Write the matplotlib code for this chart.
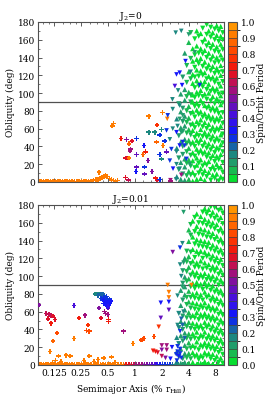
import numpy as np
import matplotlib as mpl
mpl.use('Agg')
import matplotlib.pyplot as plt
from matplotlib.colors import LinearSegmentedColormap, ListedColormap, BoundaryNorm
from matplotlib.ticker import FixedLocator, FixedFormatter, MultipleLocator

plt.rcParams['font.family'] = ['DejaVu Serif']
plt.rcParams['mathtext.fontset'] = 'dejavuserif'
plt.rcParams['font.size'] = 6.5

# ---------------- data ----------------
# x = semimajor axis (% r_Hill), y = obliquity (deg), c = spin/orbit period

# dense cloud: one x per column, a list of obliquities per column
cloud_x = [2.94, 3.10, 3.26, 3.43, 3.61, 3.80, 4.00, 4.21, 4.43, 4.67, 4.91, 5.17,
           5.44, 5.73, 6.03, 6.35, 6.68, 7.04, 7.41, 7.80, 8.21, 8.64, 9.10, 9.58]

top_cloud_y = [
    [6, 38, 71],
    [14, 27, 52, 88],
    [3, 22, 45, 61, 79, 99],
    [9, 31, 40, 57, 68, 83, 118],
    [2, 17, 26, 48, 63, 74, 92, 104, 145],
    [7, 21, 34, 43, 55, 67, 80, 96, 112, 131],
    [3, 12, 25, 38, 47, 59, 72, 85, 101, 124, 157],
    [8, 18, 30, 42, 53, 64, 77, 90, 98, 116, 139, 168],
    [1, 11, 24, 33, 45, 58, 66, 79, 90, 98, 111, 121, 136, 150],
    [7, 16, 29, 40, 50, 61, 73, 85, 95, 106, 118, 129, 143, 161],
    [3, 19, 27, 37, 47, 55, 68, 81, 89, 101, 114, 126, 138, 153, 170],
    [10, 21, 32, 43, 52, 64, 76, 85, 97, 108, 119, 133, 145, 164],
    [4, 15, 25, 36, 48, 59, 70, 79, 92, 103, 112, 125, 139, 150, 167],
    [8, 18, 31, 40, 51, 62, 73, 88, 96, 107, 120, 130, 144, 157, 173],
    [2, 13, 22, 34, 45, 56, 67, 77, 86, 99, 113, 123, 135, 148, 161],
    [6, 19, 28, 38, 50, 60, 71, 83, 93, 104, 116, 127, 140, 153, 166, 177],
    [11, 23, 33, 43, 54, 65, 75, 86, 100, 110, 119, 132, 145, 157, 170],
    [2, 14, 26, 36, 47, 57, 69, 80, 91, 102, 115, 125, 137, 150, 163, 174],
    [8, 18, 30, 41, 52, 62, 73, 84, 96, 106, 118, 130, 142, 155, 168],
    [4, 13, 23, 33, 45, 56, 67, 79, 88, 101, 112, 122, 134, 147, 160, 172],
    [9, 20, 29, 39, 50, 61, 72, 83, 94, 105, 117, 128, 140, 152, 165, 176],
    [1, 15, 25, 36, 46, 58, 68, 77, 90, 99, 110, 123, 135, 146, 158, 170],
    [6, 17, 31, 42, 53, 63, 74, 87, 97, 108, 120, 131, 143, 155, 164, 175],
    [3, 11, 22, 34, 44, 54, 66, 78, 89, 100, 113, 124, 137, 149, 160, 168],
]
top_cloud_c = [0.16, 0.15, 0.13, 0.12, 0.11, 0.09, 0.07, 0.06, 0.04, 0.03, 0.04, 0.02,
               0.02, 0.03, 0.02, 0.02, 0.02, 0.02, 0.03, 0.02, 0.02, 0.02, 0.02, 0.02]

bot_cloud_y = [
    [4, 15, 31],
    [9, 24, 42, 58],
    [2, 18, 33, 49, 67, 84],
    [7, 27, 40, 55, 73, 92, 106],
    [3, 13, 22, 36, 47, 62, 79, 88, 99, 120],
    [8, 18, 30, 43, 53, 68, 76, 94, 105, 116, 128],
    [2, 13, 25, 35, 48, 59, 71, 83, 97, 110, 122, 139, 152],
    [7, 19, 29, 41, 53, 64, 76, 88, 101, 114, 127, 146, 158],
    [3, 14, 22, 35, 47, 56, 70, 80, 92, 105, 117, 130, 144, 162],
    [9, 19, 30, 40, 53, 63, 75, 86, 99, 110, 121, 136, 150, 166],
    [1, 12, 26, 37, 46, 59, 69, 81, 93, 104, 115, 128, 141, 156, 170],
    [6, 17, 29, 41, 51, 62, 74, 88, 97, 110, 124, 134, 147, 160],
    [2, 11, 23, 34, 45, 57, 68, 79, 91, 102, 117, 128, 140, 153, 167],
    [8, 20, 31, 40, 53, 64, 73, 85, 98, 108, 120, 133, 146, 159, 172],
    [4, 14, 25, 37, 48, 58, 70, 82, 93, 103, 115, 127, 139, 152, 164, 176],
    [10, 19, 29, 42, 52, 63, 76, 87, 96, 109, 122, 132, 144, 157, 170],
    [2, 13, 24, 34, 46, 56, 67, 79, 91, 101, 113, 125, 138, 150, 162, 175],
    [7, 18, 28, 39, 50, 61, 72, 84, 95, 106, 118, 130, 143, 155, 167, 178],
    [1, 12, 22, 33, 44, 55, 65, 77, 89, 100, 111, 123, 135, 148, 160, 172],
    [5, 16, 27, 37, 49, 60, 71, 82, 93, 105, 116, 128, 141, 153, 165, 177],
    [10, 21, 31, 42, 53, 64, 75, 86, 98, 110, 121, 133, 145, 158, 169],
    [3, 14, 24, 35, 45, 57, 68, 80, 90, 102, 114, 126, 138, 150, 162, 174],
    [8, 19, 29, 40, 51, 61, 73, 84, 96, 107, 119, 130, 142, 154, 166, 177],
    [2, 12, 23, 34, 46, 56, 67, 78, 91, 101, 112, 124, 136, 148, 159, 171],
]
bot_cloud_c = [0.17, 0.16, 0.15, 0.13, 0.11, 0.09, 0.07, 0.05, 0.04, 0.03, 0.03, 0.02,
               0.02, 0.03, 0.02, 0.02, 0.02, 0.02, 0.02, 0.03, 0.02, 0.02, 0.02, 0.02]

# points sitting on obliquity ~0
top_base_x = [0.085, 0.09, 0.096, 0.102, 0.108, 0.115, 0.122, 0.13, 0.138, 0.147, 0.156, 0.166,
              0.176, 0.187, 0.199, 0.211, 0.225, 0.239, 0.254, 0.27, 0.287, 0.305, 0.324, 0.345,
              0.367, 0.39, 0.41, 0.43, 0.45, 0.47, 0.49, 0.52, 0.55, 0.58, 0.61, 0.64, 1.76, 2.5]
top_base_y = [0.5, 1.0, 0.4, 1.2, 0.6, 1.0, 0.3, 1.1, 0.7, 0.4, 1.2, 0.6, 1.0, 0.4, 1.1, 0.7, 0.5,
              1.2, 0.6, 1.0, 0.4, 1.3, 0.8, 2.0, 2.5, 3.0, 4.0, 5.0, 6.5, 7.5, 6.0, 4.0, 2.5, 1.5,
              0.8, 1.5, 1.5, 1.0]
top_base_c = [0.95] * 36 + [0.7, 0.6]

bot_base_x = [0.085, 0.09, 0.096, 0.102, 0.108, 0.115, 0.122, 0.13, 0.138, 0.147, 0.156, 0.166,
              0.176, 0.187, 0.199, 0.211, 0.225, 0.239, 0.254, 0.27, 0.287, 0.305, 0.324, 0.345,
              0.367, 0.39, 0.415, 0.44, 0.47, 0.5, 0.53, 0.57, 0.61, 0.65, 0.7, 0.75, 0.8, 0.86,
              0.92, 0.98, 1.05, 1.12, 1.2, 1.28, 1.37, 1.46, 1.56, 1.67, 1.78, 1.9, 2.03, 2.17,
              2.32, 2.48, 2.65, 2.83, 3.02, 3.23, 3.45, 3.7, 3.95, 4.5, 5.1, 5.8, 6.6, 7.5, 8.5, 9.5]
bot_base_y = [0.5, 0.9, 0.3, 1.1, 0.6, 0.9, 0.4, 1.0, 0.6, 0.3, 1.1, 0.6, 0.9, 0.4, 1.0, 0.6, 0.4,
              1.1, 0.6, 0.9, 0.4, 1.0, 0.6, 0.3, 1.0, 0.6, 0.4, 0.9, 0.5, 0.3, 0.9, 0.5, 0.4, 0.8,
              0.5, 0.3, 0.6, 0.4, 0.7, 0.3, 0.6, 0.4, 0.7, 0.3, 0.6, 0.4, 0.7, 0.3, 0.6, 0.4, 0.7,
              0.3, 0.6, 0.4, 0.7, 0.3, 0.6, 0.4, 0.7, 0.3, 0.6, 0.4, 0.7, 0.3, 0.6, 0.4, 0.7, 0.3]
bot_base_c = [0.95] * 36 + [0.72, 0.7, 0.65, 0.62, 0.6, 0.58, 0.55, 0.52, 0.5, 0.47, 0.45,
                            0.4, 0.36, 0.33, 0.3, 0.3, 0.28, 0.25, 0.22, 0.17, 0.16, 0.15,
                            0.12, 0.1, 0.08, 0.06, 0.04, 0.03, 0.02, 0.02, 0.02, 0.02]

# scattered points, plus markers (top panel)
top_plus_x = [0.40, 0.56, 0.58, 0.70, 0.81, 0.93, 0.86, 0.90, 0.88, 0.79, 0.82, 0.86, 0.79, 0.85,
              1.05, 1.05, 1.03, 1.26, 1.32, 1.23, 1.40, 1.05, 1.29, 1.55, 1.29, 1.71, 1.90,
              1.43, 1.67, 1.90, 1.98, 2.16, 1.74, 2.07, 2.26, 1.90, 1.98, 1.76, 2.04, 1.43]
top_plus_y = [11, 63, 66, 49, 48, 46, 43, 37, 35, 27, 27, 27, 5, 2,
              49, 31, 12, 41, 34, 31, 24, 17, 17, 12, 9, 4.5, 3,
              56, 56, 53, 59, 46, 45, 41, 34, 31, 26, 64, 78, 74]
top_plus_c = [0.95, 0.95, 0.95, 0.72, 0.5, 0.65, 0.88, 0.55, 0.55, 0.7, 0.68, 0.9, 0.7, 0.62,
              0.3, 0.48, 0.32, 0.32, 0.72, 0.88, 0.5, 0.48, 0.3, 0.5, 0.48, 0.72, 0.3,
              0.16, 0.17, 0.3, 0.17, 0.3, 0.88, 0.9, 0.48, 0.3, 0.16, 0.75, 0.95, 0.92]

# scattered points, triangles (top panel)
top_tri_x = [2.30, 2.33, 2.65, 2.46, 2.56, 2.92, 2.26, 2.46, 2.92, 3.17, 2.67, 3.77, 4.10, 3.60,
             3.17, 3.43, 3.00, 2.65, 3.30, 2.92, 3.17, 3.43, 3.17, 2.90, 3.30, 2.50,
             2.86, 3.30, 4.00, 3.68, 2.92, 3.17, 4.20, 2.80, 3.37, 3.04, 2.63, 5.30, 4.66]
top_tri_y = [71, 75, 82, 48, 37, 34, 58, 24, 20, 15, 15, 26, 20, 41,
             41, 45, 63, 60, 56, 56, 71, 75, 86, 3, 8, 2,
             168, 170, 166, 136, 121, 123, 124, 108, 109, 103, 93, 109, 146]
top_tri_c = [0.92, 0.3, 0.16, 0.17, 0.3, 0.16, 0.3, 0.3, 0.16, 0.16, 0.32, 0.3, 0.14, 0.3,
             0.32, 0.3, 0.16, 0.17, 0.14, 0.32, 0.14, 0.12, 0.16, 0.16, 0.55, 0.6,
             0.17, 0.17, 0.14, 0.32, 0.35, 0.32, 0.16, 0.42, 0.35, 0.17, 0.17, 0.3, 0.14]

# scattered points, plus markers (bottom panel)
bot_plus_x = [0.085, 0.21, 0.102, 0.11, 0.116, 0.122, 0.107, 0.128, 0.116, 0.135, 0.122, 0.113,
              0.237, 0.277, 0.30, 0.29, 0.31, 0.21, 0.17, 0.19, 0.31, 0.40, 0.46, 0.47, 0.50,
              0.50, 0.51, 0.51, 0.42, 0.75, 0.95, 1.17, 1.22, 1.27, 1.63, 0.14, 0.15, 0.13,
              0.35, 0.45, 0.55, 0.60, 0.27, 0.28, 0.39, 0.12,
              0.36, 0.38, 0.40, 0.42, 0.44, 0.46, 0.39, 0.43, 0.45, 0.47, 0.49, 0.44, 0.46,
              0.48, 0.50, 0.52, 0.45, 0.47, 0.49, 0.51, 0.53, 0.50, 0.52, 0.48, 0.42, 0.54]
bot_plus_y = [67.5, 67, 58, 57, 56, 55, 52, 51, 47, 36, 27, 15,
              53, 56, 45, 39, 38, 30, 11, 10, 10, 64, 60, 58, 57,
              64, 51, 49, 53, 38, 24, 28, 29, 30, 32, 10, 4, 5,
              4, 8, 9, 3, 5, 3, 6, 3,
              80, 80, 80, 80, 79, 78, 78, 77, 76, 75, 74, 73, 72,
              71, 72, 70, 69, 68, 67, 68, 69, 66, 74, 77, 75, 72]
bot_plus_c = [0.5, 0.42, 0.62, 0.62, 0.62, 0.65, 0.7, 0.7, 0.72, 0.8, 0.88, 0.9,
              0.72, 0.6, 0.75, 0.82, 0.82, 0.9, 0.95, 0.95, 0.95, 0.5, 0.58, 0.58, 0.55,
              0.45, 0.72, 0.72, 0.7, 0.6, 0.9, 0.85, 0.85, 0.82, 0.8, 0.95, 0.95, 0.95,
              0.95, 0.95, 0.95, 0.95, 0.95, 0.95, 0.95, 0.95,
              0.17, 0.17, 0.17, 0.2, 0.2, 0.22, 0.2, 0.22, 0.3, 0.3, 0.3, 0.32, 0.32,
              0.32, 0.32, 0.32, 0.35, 0.35, 0.35, 0.35, 0.35, 0.38, 0.3, 0.28, 0.28, 0.33]

# scattered points, triangles (bottom panel)
bot_tri_x = [1.85, 1.60, 1.70, 1.80, 2.00, 2.00, 2.00, 2.27, 2.27, 2.20, 2.60, 2.50,
             1.95, 2.40, 2.40, 1.95, 2.33, 2.40, 2.40, 4.30,
             2.90, 3.00, 3.10, 3.20, 3.30, 3.00, 3.20, 2.95,
             3.00, 3.40, 3.30, 3.50, 3.20, 3.60,
             3.50, 2.65, 3.20, 3.40, 3.20, 3.50, 3.30, 3.40, 3.00]
bot_tri_y = [43, 16, 15, 14, 10, 17, 22, 22, 17, 8, 20, 7,
             70, 71, 62, 53, 90, 82, 76, 90,
             12, 15, 10, 18, 8, 21, 13, 5,
             45, 45, 52, 60, 38, 30,
             172, 127, 132, 137, 113, 115, 100, 88, 78]
bot_tri_c = [0.75, 0.72, 0.72, 0.7, 0.62, 0.5, 0.55, 0.6, 0.6, 0.5, 0.35, 0.35,
             0.32, 0.32, 0.48, 0.48, 0.95, 0.92, 0.92, 0.95,
             0.3, 0.3, 0.32, 0.28, 0.3, 0.25, 0.3, 0.3,
             0.17, 0.2, 0.22, 0.17, 0.3, 0.22,
             0.14, 0.5, 0.3, 0.17, 0.17, 0.14, 0.17, 0.14, 0.17]

xticks = [0.125, 0.25, 0.5, 1, 2, 4, 8]
xtick_labels = ['0.125', '0.25', '0.5', '1', '2', '4', '8']

# ---------------- palette ----------------
anchors = ['#00ee22', '#22a860', '#1a7c8c', '#0818ff', '#3c10e8', '#7010b0',
           '#b0106c', '#ee1010', '#ff3c00', '#ff7000', '#ffa000']
base = LinearSegmentedColormap.from_list('spin', anchors)
cmap = ListedColormap(base(np.linspace(0.025, 0.975, 20)))
norm = BoundaryNorm(np.linspace(0, 1, 21), 20)

fig = plt.figure(figsize=(2.73, 4.10), dpi=100)
W, H = 273.0, 410.0
ax_top = fig.add_axes([38 / W, 1 - 183 / H, 186 / W, 160 / H])
ax_bot = fig.add_axes([38 / W, 1 - 366 / H, 186 / W, 160 / H])
cax_top = fig.add_axes([228 / W, 1 - 183 / H, 9 / W, 160 / H])
cax_bot = fig.add_axes([228 / W, 1 - 366 / H, 9 / W, 160 / H])

ms = 11
ms_cloud = 14


def draw_panel(ax, cloud_y, cloud_c, base_x, base_y, base_c, plus_x, plus_y, plus_c,
               tri_x, tri_y, tri_c, title):
    ax.axhline(90, color='#505050', lw=0.9, zorder=1)
    ax.scatter(base_x, base_y, c=base_c, cmap=cmap, norm=norm, marker='P', s=ms,
               linewidths=0, zorder=2)
    for i in range(len(cloud_x)):
        ys = cloud_y[i]
        mk = '^' if i % 2 == 0 else 'v'
        ax.scatter([cloud_x[i]] * len(ys), ys, c=[cloud_c[i]] * len(ys), cmap=cmap,
                   norm=norm, marker=mk, s=ms_cloud, linewidths=0, zorder=2)
    ax.scatter(tri_x, tri_y, c=tri_c, cmap=cmap, norm=norm, marker='v', s=ms,
               linewidths=0, zorder=3)
    sc = ax.scatter(plus_x, plus_y, c=plus_c, cmap=cmap, norm=norm, marker='P', s=ms,
                    linewidths=0, zorder=3)

    ax.set_xscale('log', base=2)
    ax.set_xlim(0.083, 9.9)
    ax.set_ylim(0, 180)
    ax.yaxis.set_major_locator(MultipleLocator(20))
    ax.yaxis.set_minor_locator(MultipleLocator(10))
    ax.xaxis.set_major_locator(FixedLocator(xticks))
    ax.xaxis.set_major_formatter(FixedFormatter(xtick_labels))
    minors = []
    for t in [0.0625] + xticks:
        minors += [t * 1.25, t * 1.5, t * 1.75]
    ax.xaxis.set_minor_locator(FixedLocator(minors))
    ax.xaxis.set_minor_formatter(FixedFormatter([''] * len(minors)))
    ax.tick_params(which='both', direction='in', top=True, right=True, colors='#404040',
                   labelcolor='black', pad=2)
    ax.tick_params(which='major', length=3, width=0.6)
    ax.tick_params(which='minor', length=1.5, width=0.5)
    for s in ax.spines.values():
        s.set_color('#505050')
        s.set_linewidth(0.8)
    ax.set_ylabel('Obliquity (deg)', labelpad=2)
    ax.set_title(title, fontsize=6.5, pad=3)
    return sc


sc1 = draw_panel(ax_top, top_cloud_y, top_cloud_c, top_base_x, top_base_y, top_base_c,
                 top_plus_x, top_plus_y, top_plus_c, top_tri_x, top_tri_y, top_tri_c,
                 'J$_2$=0')
sc2 = draw_panel(ax_bot, bot_cloud_y, bot_cloud_c, bot_base_x, bot_base_y, bot_base_c,
                 bot_plus_x, bot_plus_y, bot_plus_c, bot_tri_x, bot_tri_y, bot_tri_c,
                 'J$_2$=0.01')
ax_top.tick_params(labelbottom=False)
ax_bot.set_xlabel('Semimajor Axis (% r$_{\\rm Hill}$)', labelpad=3)

for cax, sc in [(cax_top, sc1), (cax_bot, sc2)]:
    cb = fig.colorbar(sc, cax=cax, drawedges=True)
    cb.set_ticks(np.arange(0, 1.01, 0.1))
    cb.set_ticklabels(['%.1f' % v for v in np.arange(0, 1.01, 0.1)])
    cb.dividers.set_color('#404040')
    cb.dividers.set_linewidth(0.5)
    cb.outline.set_edgecolor('#505050')
    cb.outline.set_linewidth(0.8)
    cax.tick_params(length=0, pad=3)
    cb.set_label('Spin/Orbit Period', labelpad=1)

fig.savefig('out.png', dpi=100)
